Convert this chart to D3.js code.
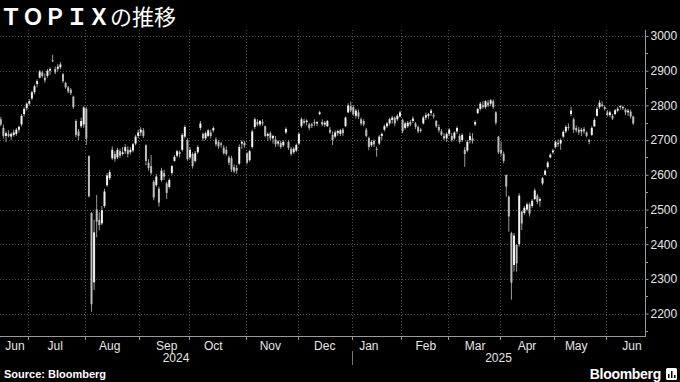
<!DOCTYPE html>
<html><head><meta charset="utf-8">
<script src="https://cdn.jsdelivr.net/npm/d3@7"></script>
<style>html,body{margin:0;padding:0;background:#000;}svg{display:block;}</style>
</head><body>
<svg id="chart" width="680" height="382"></svg>
<script>
// ---------- data ----------
const titleMain = "ＴＯＰＩＸ";
const titleRest = "の推移";
const sourceText = "Source: Bloomberg";
const brandText = "Bloomberg";
const startDate = "2024-06-14";
const endDate = "2025-06-16";
const marketHolidays = ["2024-07-15","2024-08-12","2024-09-16","2024-09-23","2024-10-14","2024-11-04",
  "2024-12-31","2025-01-01","2025-01-02","2025-01-03","2025-01-13","2025-02-11","2025-02-24",
  "2025-03-20","2025-04-29","2025-05-05","2025-05-06"];
const monthNames = ["Jan","Feb","Mar","Apr","May","Jun","Jul","Aug","Sep","Oct","Nov","Dec"];
const yTickValues = [2200,2300,2400,2500,2600,2700,2800,2900,3000];
const yMinorTicks = [2150,2250,2350,2450,2550,2650,2750,2850,2950];

const open = [2760,2735,2712,2718,2710,2715,2718,2730,2745,2775,2792,2805,2820,2838,2862,2880,2895,2880,2885,2900,
2930,2905,2905,2910,2890,2865,2852,2845,2825,2755,2725,2740,2745,2790,2654,2490,2290,2500,2470,2460,
2510,2570,2590,2648,2660,2650,2668,2660,2668,2672,2665,2670,2690,2712,2722,2728,2685,2635,2625,2580,
2570,2560,2585,2605,2575,2565,2605,2640,2655,2665,2672,2710,2700,2650,2660,2640,2665,2735,2718,2705,
2712,2722,2728,2702,2695,2688,2678,2672,2650,2648,2622,2620,2632,2690,2692,2662,2642,2680,2738,2752,
2745,2752,2740,2712,2720,2705,2702,2690,2692,2685,2722,2695,2675,2665,2670,2690,2740,2755,2752,2745,
2742,2752,2748,2775,2752,2745,2740,2730,2715,2710,2720,2718,2730,2740,2780,2798,2795,2770,2780,2760,
2755,2730,2706,2685,2698,2675,2690,2712,2730,2740,2748,2758,2765,2760,2768,2758,2735,2740,2752,2755,
2748,2738,2728,2748,2765,2770,2778,2772,2755,2738,2725,2712,2705,2718,2712,2705,2725,2712,2700,2672,
2670,2700,2705,2745,2778,2790,2800,2795,2808,2805,2812,2780,2710,2672,2660,2600,2537,2432,2340,2398,
2400,2494,2490,2500,2515,2510,2530,2540,2525,2575,2600,2622,2650,2665,2680,2692,2690,2710,2725,2738,
2775,2760,2735,2730,2725,2732,2722,2700,2715,2740,2770,2795,2800,2795,2780,2772,2770,2775,2785,2795,
2792,2788,2780,2782,2768];
const high = [2767,2745,2725,2728,2722,2730,2735,2742,2775,2795,2808,2818,2842,2860,2875,2902,2900,2892,2905,2910,
2946,2912,2920,2925,2893,2868,2856,2850,2828,2760,2732,2765,2797,2796,2656,2492,2470,2542,2492,2510,
2560,2605,2615,2682,2668,2678,2675,2680,2688,2682,2680,2692,2715,2730,2737,2735,2688,2645,2657,2585,
2602,2566,2620,2615,2580,2590,2628,2657,2672,2670,2720,2743,2705,2680,2665,2668,2685,2755,2722,2725,
2732,2730,2740,2708,2700,2695,2685,2682,2655,2655,2630,2628,2688,2700,2698,2665,2672,2730,2765,2760,
2758,2760,2742,2722,2725,2715,2712,2700,2698,2700,2737,2700,2680,2680,2690,2722,2765,2762,2760,2750,
2750,2760,2755,2785,2760,2755,2758,2738,2725,2728,2730,2732,2735,2768,2806,2811,2801,2790,2788,2765,
2760,2735,2710,2700,2702,2681,2715,2722,2745,2752,2765,2770,2768,2775,2785,2762,2752,2755,2758,2768,
2752,2742,2735,2770,2780,2778,2790,2778,2758,2745,2732,2720,2722,2735,2720,2725,2740,2718,2720,2680,
2700,2722,2720,2757,2792,2810,2812,2815,2816,2818,2817,2783,2712,2695,2667,2600,2540,2436,2432,2400,
2547,2496,2510,2520,2520,2530,2561,2545,2535,2594,2615,2640,2662,2675,2700,2702,2705,2728,2743,2748,
2796,2765,2742,2738,2735,2738,2725,2703,2740,2764,2796,2815,2812,2800,2787,2785,2775,2790,2795,2801,
2800,2792,2790,2788,2770];
const low = [2740,2705,2695,2708,2700,2710,2712,2722,2740,2768,2785,2800,2815,2832,2852,2878,2880,2865,2880,2888,
2925,2890,2898,2905,2865,2848,2835,2830,2790,2708,2700,2735,2735,2686,2535,2205,2268,2420,2440,2455,
2505,2565,2585,2643,2638,2645,2648,2655,2660,2650,2658,2665,2685,2705,2712,2706,2628,2612,2600,2527,
2566,2508,2580,2585,2530,2560,2600,2638,2650,2650,2667,2705,2640,2645,2618,2635,2660,2728,2698,2700,
2708,2705,2722,2682,2675,2678,2658,2655,2628,2608,2605,2603,2628,2675,2678,2630,2638,2676,2732,2740,
2740,2742,2708,2698,2700,2690,2680,2682,2675,2680,2718,2672,2655,2660,2665,2686,2735,2745,2742,2728,
2735,2740,2740,2772,2740,2738,2738,2718,2686,2705,2712,2712,2712,2738,2778,2780,2770,2762,2760,2742,
2740,2708,2671,2680,2680,2652,2686,2700,2725,2735,2742,2748,2740,2755,2765,2720,2730,2735,2740,2750,
2732,2720,2722,2745,2758,2762,2770,2762,2735,2722,2712,2700,2695,2712,2695,2700,2718,2690,2695,2623,
2665,2690,2690,2740,2775,2785,2790,2790,2795,2798,2790,2744,2660,2655,2633,2537,2436,2240,2321,2321,
2393,2441,2485,2495,2480,2505,2527,2515,2508,2570,2598,2618,2648,2660,2676,2681,2672,2705,2720,2728,
2770,2720,2722,2715,2712,2718,2708,2688,2712,2738,2768,2790,2795,2785,2768,2767,2758,2772,2780,2788,
2787,2772,2770,2762,2744];
const close = [2745,2712,2720,2712,2718,2722,2730,2738,2770,2790,2805,2812,2838,2855,2870,2898,2885,2872,2900,2905,
2929,2895,2912,2918,2870,2852,2840,2835,2795,2715,2712,2755,2794,2704,2538,2227,2434,2465,2455,2498,
2552,2598,2608,2672,2645,2672,2655,2665,2680,2660,2672,2688,2710,2722,2730,2712,2640,2620,2605,2535,
2595,2520,2612,2595,2548,2585,2625,2652,2668,2660,2715,2738,2645,2672,2625,2662,2680,2748,2705,2720,
2728,2712,2735,2688,2682,2690,2662,2660,2635,2615,2610,2612,2680,2695,2685,2635,2668,2725,2760,2745,
2755,2748,2712,2718,2705,2712,2688,2696,2680,2695,2732,2678,2660,2675,2686,2718,2760,2750,2756,2735,
2745,2748,2752,2780,2745,2750,2755,2722,2700,2722,2726,2728,2720,2765,2800,2785,2775,2785,2768,2748,
2745,2712,2680,2695,2688,2672,2710,2718,2740,2748,2760,2765,2748,2770,2780,2725,2748,2750,2745,2762,
2738,2725,2730,2765,2772,2775,2785,2768,2740,2728,2715,2705,2718,2730,2700,2722,2735,2695,2715,2660,
2695,2712,2698,2752,2790,2805,2795,2812,2800,2815,2795,2750,2665,2662,2640,2566,2480,2289,2425,2345,
2540,2460,2505,2515,2488,2525,2555,2522,2530,2590,2612,2635,2658,2670,2695,2688,2700,2724,2738,2735,
2785,2730,2728,2722,2730,2725,2712,2695,2735,2758,2790,2808,2802,2790,2772,2780,2762,2786,2790,2798,
2795,2780,2785,2768,2748];

// ---------- trading calendar ----------
const parse = d3.utcParse("%Y-%m-%d");
const fmt = d3.utcFormat("%Y-%m-%d");
const holidaySet = new Set(marketHolidays);
const dates = d3.utcDays(parse(startDate), d3.utcDay.offset(parse(endDate), 1))
  .filter(d => d.getUTCDay() !== 0 && d.getUTCDay() !== 6 && !holidaySet.has(fmt(d)));
const n = Math.min(dates.length, close.length);
const data = d3.range(n).map(i => ({i, date: dates[i], o: open[i], h: high[i], l: low[i], c: close[i]}));

// ---------- layout ----------
const W = 680, H = 382;
const plotTop = 30, plotBottom = 336, plotRight = 645;
const svg = d3.select("#chart");
svg.append("rect").attr("width", W).attr("height", H).attr("fill", "#000");

const step = 2.592;
const x = d3.scaleBand().domain(d3.range(n)).range([-0.5, -0.5 + n * step])
  .paddingInner(0.24).paddingOuter(0.12);
const y = d3.scaleLinear().domain([2200, 3000]).range([313.6, 36]);
const slot = i => x(i) - x.step() * 0.12;
const cx = i => x(i) + x.bandwidth() / 2;

const monthStarts = data.filter((d, k) => k > 0 && d.date.getUTCMonth() !== data[k - 1].date.getUTCMonth());

// grid
const grid = svg.append("g").attr("stroke", "#505050").attr("stroke-width", 1).attr("stroke-dasharray", "1,2");
grid.selectAll("line.h").data(yTickValues).join("line").attr("class", "h")
  .attr("x1", 0).attr("x2", plotRight).attr("y1", d => Math.round(y(d)) + 0.5).attr("y2", d => Math.round(y(d)) + 0.5);
grid.selectAll("line.v").data(monthStarts).join("line").attr("class", "v")
  .attr("x1", d => Math.round(slot(d.i)) + 0.5).attr("x2", d => Math.round(slot(d.i)) + 0.5)
  .attr("y1", plotTop).attr("y2", plotBottom);

// candles
const candles = svg.append("g");
candles.selectAll("line.wick").data(data).join("line").attr("class", "wick")
  .attr("x1", d => cx(d.i)).attr("x2", d => cx(d.i))
  .attr("y1", d => y(d.h)).attr("y2", d => y(d.l))
  .attr("stroke", "#9a9a9a").attr("stroke-width", 1);
candles.selectAll("rect.body").data(data).join("rect").attr("class", "body")
  .attr("x", d => x(d.i)).attr("width", x.bandwidth())
  .attr("y", d => y(Math.max(d.o, d.c)))
  .attr("height", d => Math.max(1, Math.abs(y(d.o) - y(d.c))))
  .attr("fill", d => d.c >= d.o ? "#f2f2f2" : "#bdbdbd");

// axes lines
svg.append("line").attr("x1", plotRight + 0.5).attr("x2", plotRight + 0.5).attr("y1", plotTop).attr("y2", plotBottom + 1)
  .attr("stroke", "#9a9a9a");
svg.append("line").attr("x1", 0).attr("x2", plotRight + 1).attr("y1", plotBottom + 0.5).attr("y2", plotBottom + 0.5)
  .attr("stroke", "#9a9a9a");

// y ticks
const yAxis = d3.axisRight(y).tickValues(yTickValues).tickFormat(d3.format("d")).tickSize(3).tickPadding(2);
const yg = svg.append("g").attr("transform", `translate(${plotRight + 0.5},0)`).call(yAxis);
yg.select(".domain").remove();
yg.selectAll(".tick line").attr("stroke", "#9a9a9a");
yg.selectAll(".tick text").attr("fill", "#e6e6e6").attr("font-size", 12)
  .attr("font-family", "'Liberation Sans', Arial, sans-serif");
svg.append("g").selectAll("line").data(yMinorTicks).join("line")
  .attr("x1", plotRight + 0.5).attr("x2", plotRight + 3)
  .attr("y1", d => Math.round(y(d)) + 0.5).attr("y2", d => Math.round(y(d)) + 0.5).attr("stroke", "#9a9a9a");

// x ticks (month boundaries)
svg.append("g").selectAll("line").data(monthStarts).join("line")
  .attr("x1", d => Math.round(slot(d.i)) + 0.5).attr("x2", d => Math.round(slot(d.i)) + 0.5)
  .attr("y1", plotBottom).attr("y2", plotBottom + 4).attr("stroke", "#9a9a9a");

// month labels at mid-month
const monthGroups = d3.groups(data, d => d.date.getUTCFullYear() * 12 + d.date.getUTCMonth());
const monthLabels = monthGroups.map(([key, arr]) => {
  const mid = arr.find(d => d.date.getUTCDate() >= 15) || arr[arr.length - 1];
  return {name: monthNames[key % 12], pos: Math.max(15, Math.min(632, cx(mid.i)))};
});
svg.append("g").selectAll("text").data(monthLabels).join("text")
  .attr("x", d => d.pos).attr("y", 350).attr("text-anchor", "middle")
  .attr("fill", "#e6e6e6").attr("font-size", 12).attr("font-family", "'Liberation Sans', Arial, sans-serif")
  .text(d => d.name);

// year labels
const yearGroups = d3.groups(data, d => d.date.getUTCFullYear());
const yearLabels = yearGroups.map(([yr, arr], k) => {
  const s = k === 0 ? 0 : slot(arr[0].i);
  return {yr, s, pos: (s + plotRight) / 2, start: slot(arr[0].i)};
});
yearLabels.forEach((d, k) => {
  if (k + 1 < yearLabels.length) d.pos = (d.s + yearLabels[k + 1].start) / 2;
});
svg.append("g").selectAll("text").data(yearLabels).join("text")
  .attr("x", d => d.pos).attr("y", 362).attr("text-anchor", "middle")
  .attr("fill", "#e6e6e6").attr("font-size", 12).attr("font-family", "'Liberation Sans', Arial, sans-serif")
  .text(d => d.yr);
svg.append("g").selectAll("line").data(yearLabels.slice(1)).join("line")
  .attr("x1", d => Math.round(d.start) + 0.5).attr("x2", d => Math.round(d.start) + 0.5)
  .attr("y1", 351).attr("y2", 365).attr("stroke", "#777");

// title
const t = svg.append("text").attr("x", 0).attr("y", 25).attr("fill", "#fff")
  .attr("font-family", "'Noto Sans CJK JP', 'Noto Sans', sans-serif").attr("font-size", 22);
t.append("tspan").attr("font-weight", "bold").text(titleMain);
t.append("tspan").attr("font-weight", "normal").text(titleRest);

// footer
svg.append("text").attr("x", 4).attr("y", 378).attr("fill", "#fff").attr("font-weight", "bold")
  .attr("font-size", 11).attr("font-family", "'Liberation Sans', Arial, sans-serif").text(sourceText);
svg.append("text").attr("x", 661).attr("y", 379).attr("text-anchor", "end").attr("fill", "#fff")
  .attr("font-weight", "bold").attr("font-size", 14).attr("letter-spacing", -0.3)
  .attr("font-family", "'Liberation Sans', Arial, sans-serif").text(brandText);
const icon = svg.append("g").attr("transform", "translate(666,368)");
icon.append("rect").attr("width", 11).attr("height", 12).attr("rx", 1.5).attr("fill", "#fff");
icon.append("g").selectAll("rect").data([[2,6,4],[5,3,7],[8,7,3]]).join("rect")
  .attr("x", d => d[0]).attr("y", d => d[1]).attr("width", 1.5).attr("height", d => d[2]).attr("fill", "#000");
</script>
</body></html>
